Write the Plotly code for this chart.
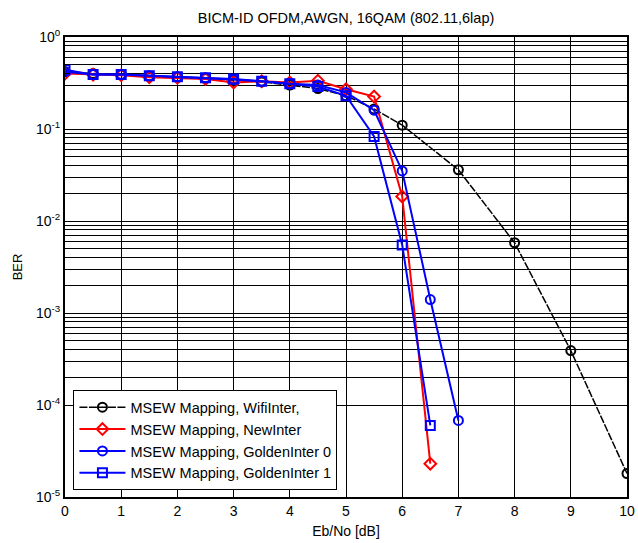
import plotly.graph_objects as go

# ---- data ----
x_wifi = [0, 0.5, 1, 1.5, 2, 2.5, 3, 3.5, 4, 4.5, 5, 5.5, 6, 7, 8, 9, 10]
ber_wifi = [0.42, 0.40, 0.39, 0.375, 0.365, 0.355, 0.34, 0.325, 0.30, 0.275, 0.23, 0.165,
            0.11, 0.036, 0.0058, 3.9e-4, 1.8e-5]

x_new = [0, 0.5, 1, 1.5, 2, 2.5, 3, 3.5, 4, 4.5, 5, 5.5, 6, 6.5]
ber_new = [0.40, 0.39, 0.385, 0.365, 0.36, 0.35, 0.32, 0.33, 0.32, 0.335, 0.27, 0.225,
           0.0185, 2.3e-5]

x_g0 = [0, 0.5, 1, 1.5, 2, 2.5, 3, 3.5, 4, 4.5, 5, 5.5, 6, 6.5, 7]
ber_g0 = [0.42, 0.39, 0.39, 0.38, 0.37, 0.36, 0.345, 0.33, 0.31, 0.30, 0.25, 0.16,
          0.035, 1.4e-3, 6.8e-5]

x_g1 = [0, 0.5, 1, 1.5, 2, 2.5, 3, 3.5, 4, 4.5, 5, 5.5, 6, 6.5]
ber_g1 = [0.44, 0.39, 0.39, 0.38, 0.37, 0.36, 0.35, 0.33, 0.31, 0.29, 0.23, 0.083,
          0.0055, 6e-5]

names = ["MSEW Mapping, WifiInter,", "MSEW Mapping, NewInter",
         "MSEW Mapping, GoldenInter 0", "MSEW Mapping, GoldenInter 1"]

title = "BICM-ID OFDM,AWGN, 16QAM (802.11,6lap)"
x_ticks = list(range(0, 11))
exps = [0, -1, -2, -3, -4, -5]

# y ticks: all 1..9 multiples for the grid, labels only at decades
y_tickvals, y_ticktext = [], []
for e in exps:
    for m in range(1, 10):
        v = m * 10.0 ** e
        if v > 1.0 + 1e-9 or (e == -5 and m > 1):
            continue
        y_tickvals.append(v)
        y_ticktext.append(f"10<sup>{e}</sup>" if m == 1 else "")

font = "Liberation Sans, Arial, sans-serif"

fig = go.Figure()
fig.add_trace(go.Scatter(x=x_wifi, y=ber_wifi, name=names[0], mode="lines+markers",
                         line=dict(color="black", width=1.5, dash="8px,1.5px"),
                         marker=dict(symbol="circle-open", size=9, color="black",
                                     line=dict(width=2))))
fig.add_trace(go.Scatter(x=x_new, y=ber_new, name=names[1], mode="lines+markers",
                         line=dict(color="red", width=2),
                         marker=dict(symbol="diamond-open", size=9, color="red",
                                     line=dict(width=2))))
fig.add_trace(go.Scatter(x=x_g0, y=ber_g0, name=names[2], mode="lines+markers",
                         line=dict(color="blue", width=2),
                         marker=dict(symbol="circle-open", size=9, color="blue",
                                     line=dict(width=2))))
fig.add_trace(go.Scatter(x=x_g1, y=ber_g1, name=names[3], mode="lines+markers",
                         line=dict(color="blue", width=2),
                         marker=dict(symbol="square-open", size=9, color="blue",
                                     line=dict(width=2))))

fig.update_layout(
    width=638, height=543,
    margin=dict(l=65, r=11, t=37, b=46, autoexpand=False),
    paper_bgcolor="white", plot_bgcolor="white",
    font=dict(family=font, size=14, color="black"),
    title=dict(text=title, x=0.5424, xanchor="center", y=0.967, yanchor="middle",
               font=dict(size=14.5)),
    showlegend=True,
    legend=dict(x=0.015, y=0.232, xanchor="left", yanchor="top",
                bgcolor="white", bordercolor="black", borderwidth=1,
                font=dict(size=14.5), tracegroupgap=0, itemwidth=46),
)
fig.update_xaxes(range=[0, 10], tickvals=x_ticks, ticktext=[str(t) for t in x_ticks],
                 showgrid=True, gridcolor="black", gridwidth=1, automargin=False,
                 showline=True, linecolor="black", linewidth=2, mirror=True,
                 ticks="inside", ticklen=5, tickcolor="black", zeroline=False,
                 title=dict(text="Eb/No [dB]", standoff=8, font=dict(size=14)),
                 tickfont=dict(size=14))
fig.update_yaxes(type="log", range=[-5, 0], tickvals=y_tickvals, ticktext=y_ticktext,
                 showgrid=True, gridcolor="black", gridwidth=1, automargin=False,
                 showline=True, linecolor="black", linewidth=2, mirror=True,
                 ticks="inside", ticklen=5, tickcolor="black", zeroline=False,
                 title=dict(text="BER", standoff=10, font=dict(size=13)),
                 tickfont=dict(size=14))

fig.write_html("out.html")
